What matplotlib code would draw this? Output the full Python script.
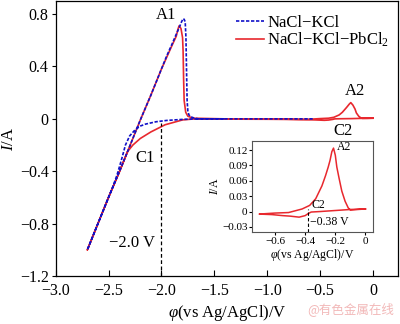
import matplotlib
matplotlib.use("Agg")
import matplotlib.pyplot as plt

plt.rcParams["font.family"] = ["Liberation Serif", "DejaVu Serif"]
plt.rcParams["mathtext.fontset"] = "custom"
plt.rcParams["mathtext.rm"] = "Liberation Serif"
plt.rcParams["mathtext.it"] = "Liberation Serif:italic"
plt.rcParams["axes.unicode_minus"] = True

# ---- data: NaCl-KCl (blue), scan from -0.57 V to -2.7 V and back
blue_phi = [-0.57, -1.0, -1.4, -1.65, -1.8, -1.95, -2.05, -2.15, -2.2, -2.25,
            -2.3, -2.34, -2.38, -2.42, -2.46, -2.5, -2.6, -2.7,
            -2.6, -2.5, -2.4, -2.3, -2.2, -2.1, -2.0, -1.95, -1.9, -1.86,
            -1.83, -1.81, -1.795, -1.785, -1.775, -1.768, -1.762, -1.757,
            -1.75, -1.74, -1.72, -1.69, -1.65, -1.4]
blue_i = [0.0, 0.0, 0.0, 0.0, -0.004, -0.012, -0.022, -0.04, -0.055, -0.085,
          -0.13, -0.2, -0.32, -0.43, -0.52, -0.6, -0.8, -1.0,
          -0.8, -0.6, -0.41, -0.21, -0.01, 0.18, 0.38, 0.48, 0.57, 0.645,
          0.70, 0.74, 0.765, 0.76, 0.74, 0.62, 0.35, 0.14,
          0.06, 0.03, 0.015, 0.006, 0.0, 0.0]

# ---- data: NaCl-KCl-PbCl2 (red), scan from 0 V to -2.7 V and back
red_phi = [0.0, -0.1, -0.2, -0.3, -0.36, -0.38, -0.42, -0.46, -0.55, -0.7,
           -1.0, -1.4, -1.7, -1.8, -1.965, -2.1, -2.2, -2.27, -2.32, -2.4,
           -2.5, -2.6, -2.7,
           -2.6, -2.5, -2.4, -2.3, -2.2, -2.1, -2.0, -1.95, -1.9, -1.86,
           -1.845, -1.833, -1.815, -1.80, -1.795, -1.79, -1.785, -1.77,
           -1.75, -1.7, -1.4, -1.0, -0.7, -0.6, -0.5, -0.42, -0.37, -0.32,
           -0.29, -0.25, -0.225, -0.21, -0.19, -0.17, -0.157, -0.135, -0.114,
           -0.1, -0.05, 0.0]
red_i = [0.005, 0.004, 0.002, 0.001, 0.0, -0.004, -0.009, -0.011, -0.008, -0.005,
         -0.003, -0.002, -0.001, -0.008, -0.045, -0.1, -0.15, -0.2, -0.25, -0.41,
         -0.6, -0.8, -1.0,
         -0.8, -0.6, -0.41, -0.21, -0.01, 0.18, 0.38, 0.47, 0.56, 0.63,
         0.68, 0.71, 0.69, 0.62, 0.52, 0.3, 0.14, 0.05,
         0.02, 0.005, 0.0, 0.0, -0.004, -0.003, 0.002, 0.005, 0.012, 0.03,
         0.05, 0.087, 0.112, 0.124, 0.105, 0.075, 0.045, 0.02, 0.007,
         0.004, 0.004, 0.005]

# ---- inset data (red, -0.7 V .. 0 V)
inset_phi = [0.0, -0.1, -0.2, -0.3, -0.36, -0.38, -0.4, -0.44, -0.5, -0.55,
             -0.62, -0.705,
             -0.6, -0.51, -0.42, -0.37, -0.33, -0.289, -0.265, -0.247, -0.235,
             -0.223, -0.212, -0.2, -0.19, -0.175, -0.157, -0.135, -0.114,
             -0.1, -0.05, 0.0]
inset_i = [0.005, 0.004, 0.002, 0.0, -0.001, -0.004, -0.008, -0.011, -0.009, -0.008,
           -0.006, -0.005,
           -0.003, -0.002, 0.005, 0.012, 0.025, 0.05, 0.07, 0.087, 0.1,
           0.117, 0.124, 0.11, 0.087, 0.065, 0.04, 0.02, 0.007,
           0.003, 0.004, 0.005]

x_ticks = [-3.0, -2.5, -2.0, -1.5, -1.0, -0.5, 0.0]
x_ticklabels = ["\u22123.0", "\u22122.5", "\u22122.0", "\u22121.5", "\u22121.0", "\u22120.5", "0"]
y_ticks = [-1.2, -0.8, -0.4, 0.0, 0.4, 0.8]
y_ticklabels = ["\u22121.2", "\u22120.8", "\u22120.4", "0", "0.4", "0.8"]
ix_ticks = [-0.6, -0.4, -0.2, 0.0]
ix_ticklabels = ["\u22120.6", "\u22120.4", "\u22120.2", "0"]
iy_ticks = [-0.03, 0.0, 0.03, 0.06, 0.09, 0.12]
iy_ticklabels = ["\u22120.03", "0", "0.03", "0.06", "0.09", "0.12"]

BLUE = "#1010c8"
RED = "#e8282e"

fig = plt.figure(figsize=(4.0, 3.24), dpi=100)
ax = fig.add_axes([0.139, 0.148, 0.857, 0.849])

ax.plot(blue_phi, blue_i, color=BLUE, lw=1.2, ls=(0, (2, 1)), label="NaCl\u2212KCl", zorder=3)
ax.plot(red_phi, red_i, color=RED, lw=1.2, label="NaCl\u2212KCl\u2212PbCl$_2$", zorder=2)
ax.plot([-2.0, -2.0], [-1.2, -0.035], color="black", lw=0.9, ls=(0, (3, 2)))

ax.set_xlim(-3.0, 0.24)
ax.set_ylim(-1.2, 0.9)
ax.set_xticks(x_ticks)
ax.set_xticklabels(x_ticklabels)
ax.set_yticks(y_ticks)
ax.set_yticklabels(y_ticklabels)
ax.tick_params(axis="x", direction="in", length=4, pad=5, labelsize=11.5)
ax.tick_params(axis="y", direction="out", length=3, pad=2, labelsize=11.5)
for s in ax.spines.values():
    s.set_linewidth(0.9)

ax.set_xlabel("$\\varphi$(vs Ag/AgCl)/V", fontsize=12, labelpad=3)
ax.set_ylabel("$I$/A", fontsize=12, labelpad=2)

ax.text(-1.955, 0.79, "A1", fontsize=12, ha="center", va="center")
ax.text(-2.15, -0.30, "C1", fontsize=12, ha="center", va="center")
ax.text(-0.17, 0.215, "A2", fontsize=12, ha="center", va="center")
ax.text(-0.28, -0.09, "C2", fontsize=12, ha="center", va="center")
ax.text(-2.28, -0.95, "\u22122.0 V", fontsize=12, ha="center", va="center")

ax.legend(loc="upper left", bbox_to_anchor=(0.525, 0.95), frameon=False,
          fontsize=12, handlelength=1.7, handletextpad=0.2,
          borderaxespad=0.0, borderpad=0.0, labelspacing=0.0)

# ---- inset
ins = fig.add_axes([0.631, 0.284, 0.3015, 0.281])
ins.plot(inset_phi, inset_i, color=RED, lw=1.1)
ins.plot([-0.38, -0.38], [-0.04, 0.004], color="black", lw=0.8, ls=(0, (3, 2)))
ins.set_xlim(-0.75, 0.05)
ins.set_ylim(-0.04, 0.138)
ins.set_xticks(ix_ticks)
ins.set_xticklabels(ix_ticklabels)
ins.set_yticks(iy_ticks)
ins.set_yticklabels(iy_ticklabels)
ins.tick_params(direction="out", length=2, pad=1.5, labelsize=8)
for s in ins.spines.values():
    s.set_linewidth(0.8)
    s.set_color("#555555")
ins.set_xlabel("$\\varphi$(vs Ag/AgCl)/V", fontsize=8.5, labelpad=1)
ins.set_ylabel("$I$/A", fontsize=8.5, labelpad=1)
ins.text(-0.19, 0.126, "A2", fontsize=8.5, ha="left", va="center")
ins.text(-0.31, 0.013, "C2", fontsize=8.5, ha="center", va="center")
ins.text(-0.37, -0.02, "\u22120.38 V", fontsize=8.5, ha="left", va="center")

fig.text(0.985, 0.045, "@有色金属在线", fontsize=9, color="#f2b8b8",
         ha="right", va="center", family=["Noto Sans CJK SC", "DejaVu Sans"])

fig.savefig("out.png", dpi=100)
